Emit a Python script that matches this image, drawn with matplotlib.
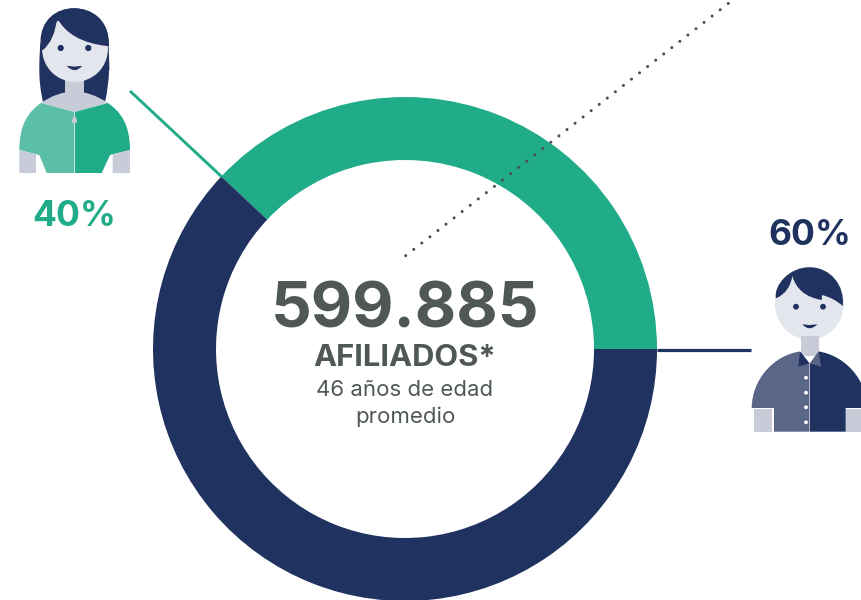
import matplotlib
matplotlib.use("Agg")
import matplotlib.pyplot as plt
from matplotlib.path import Path
from matplotlib.patches import PathPatch, Polygon, Circle, Ellipse

# Data
segment_names = ["Mujeres", "Hombres"]
segment_shares = [38, 62]          # drawn arc proportions as they appear
segment_labels = ["40%", "60%"]
total_value = "599.885"
total_label = "AFILIADOS*"
subtitle_lines = ["46 años de edad", "promedio"]

GREEN = "#20AC88"
NAVY = "#203260"
TEXT = "#4F5857"
GREY = "#C8CCD9"
FACE = "#E3E6EC"
LGREEN = "#5ABFA6"
LNAVY = "#5A6688"
W, H = 862, 600

plt.rcParams["font.family"] = ["Inter", "DejaVu Sans"]
fig = plt.figure(figsize=(W / 100, H / 100), dpi=100, facecolor="white")

# Donut
cx, cy, R = 405, 349, 252
ax_d = fig.add_axes([(cx - R) / W, 1 - (cy + R) / H, 2 * R / W, 2 * R / H])
wedges, _ = ax_d.pie(segment_shares, colors=[GREEN, NAVY], startangle=0, counterclock=True,
                     radius=1, wedgeprops=dict(width=0.25, linewidth=0))
ax_d.set_xlim(-1, 1)
ax_d.set_ylim(-1, 1)
ax_d.axis("off")
for w in wedges:
    w.set_clip_on(False)

# Overlay in pixel coordinates
ax = fig.add_axes([0, 0, 1, 1], facecolor="none")
ax.set_xlim(0, W)
ax.set_ylim(H, 0)
ax.axis("off")

M, L, C, B, Z = Path.MOVETO, Path.LINETO, Path.CURVE3, Path.CURVE4, Path.CLOSEPOLY


def curve(verts, codes, color, z=3):
    ax.add_patch(PathPatch(Path(verts, codes), facecolor=color, edgecolor="none", zorder=z))


def poly(pts, color, z=3):
    ax.add_patch(Polygon(pts, closed=True, facecolor=color, edgecolor="none", zorder=z))


# Connectors
ax.plot([130, 222], [91, 177], color=GREEN, lw=2.1, solid_capstyle="butt", zorder=2)
ax.plot([657, 751], [349.7, 349.7], color=NAVY, lw=2.3, solid_capstyle="butt", zorder=2)
ax.plot([405.7, 729.5], [255.7, 2.5], color="#4A4F52", lw=2.2, linestyle=(0, (0.01, 3.34)),
        dash_capstyle="round", zorder=4)

# Woman
curve([(43, 102), (39, 85), (39.3, 67), (39.5, 50), (40.5, 42),
       (40.5, 20), (56, 8.3), (74, 8.3), (92, 8.3), (108.5, 20), (108.5, 42),
       (109.5, 70), (109, 70), (109, 85), (105, 102), (43, 102)],
      [M, C, C, C, C, B, B, B, B, B, B, L, L, C, C, Z], NAVY)
poly([(65, 70), (84, 70), (84, 95), (65, 95)], GREY, 4)
ax.add_patch(Circle((75, 49), 32.2, color=FACE, zorder=4))
curve([(43, 50), (55, 40), (57, 18), (70, 42), (107, 46), (109, 46),
       (109, 20), (92, 8.3), (74, 8.3), (56, 8.3), (40.5, 20), (40.5, 50), (43, 50)],
      [M, C, C, C, C, L, B, B, B, B, B, B, Z], NAVY, 4.5)
ax.add_patch(Circle((60.7, 48), 2.4, color=NAVY, zorder=5))
ax.add_patch(Circle((88.3, 48), 2.4, color=NAVY, zorder=5))
curve([(66.7, 65.8), (74.5, 66.6), (82.3, 65.8), (74.5, 74.5), (66.7, 65.8), (66.7, 65.8)],
      [M, L, L, C, C, Z], NAVY, 5)
curve([(41, 103), (74, 80), (108, 103), (75, 112), (41, 103)], [M, C, C, L, Z], GREY, 4)
curve([(41, 103), (28, 112), (19.3, 125), (19.3, 150), (39.3, 155), (46.7, 173), (74.3, 173),
       (74.3, 112), (41, 103)], [M, B, B, B, L, L, L, L, Z], LGREEN, 4)
curve([(108, 103), (121, 112), (130, 125), (130, 150), (110, 155), (101.7, 173), (75, 173),
       (75, 112), (108, 103)], [M, B, B, B, L, L, L, L, Z], GREEN, 4)
poly([(19.3, 150), (36, 154.2), (36, 173), (19.3, 173)], GREY, 4)
poly([(112.7, 154.2), (130, 150), (130, 173), (112.7, 173)], GREY, 4)
curve([(74.5, 115), (71.5, 119), (72, 122.5), (74.5, 123.5), (77, 122.5), (77.5, 119),
       (74.5, 115), (74.5, 115)], [M, C, C, C, C, C, C, Z], GREY, 5)

# Man
ax.add_patch(Ellipse((809.5, 303.2), 67.6, 71.6, color=FACE, zorder=3))
curve([(776.7, 298), (790, 292), (792.3, 276), (798, 296), (821.7, 300), (822, 295),
       (834, 298), (842.7, 306), (845, 285), (830, 267.3), (809.5, 267.3),
       (789, 267.3), (774, 285), (775.8, 298), (776.7, 298)],
      [M, C, C, C, C, L, C, C, B, B, B, B, B, B, Z], NAVY, 4)
ax.add_patch(Circle((796, 306.7), 2.2, color=NAVY, zorder=5))
ax.add_patch(Circle((823, 306.7), 2.2, color=NAVY, zorder=5))
curve([(802.3, 324.3), (809.5, 325), (817.3, 324.3), (809.5, 332.5), (802.3, 324.3), (802.3, 324.3)],
      [M, L, L, C, C, Z], NAVY, 5)
poly([(800.7, 336), (818.7, 336), (818.7, 356), (800.7, 356)], GREY, 3)
curve([(800, 351.5), (775, 355), (752, 378), (751.7, 408), (774, 408), (774, 431.7), (809.5, 431.7),
       (809.5, 363.5), (800, 351.5)],
      [M, B, B, B, L, L, L, L, Z], LNAVY, 4)
curve([(818.7, 351.5), (843, 355), (867, 378), (867, 408), (845.7, 408), (845.7, 431.7), (810, 431.7),
       (810, 363.5), (818.7, 351.5)],
      [M, B, B, B, L, L, L, L, Z], NAVY, 4)
poly([(754, 409), (772.5, 409), (772.5, 431.7), (754, 431.7)], GREY, 4)
poly([(846.5, 409), (862, 409), (862, 431.7), (846.5, 431.7)], GREY, 4)
poly([(800, 351.5), (809.5, 363.3), (798.3, 366.7)], NAVY, 5)
poly([(818.7, 351.5), (821, 366.7), (810, 363.3)], LNAVY, 5)
for by in (377.7, 392.7, 407.3, 422.3):
    ax.add_patch(Circle((806, by), 1.2, color="white", zorder=6))

# Text
ax.text(405, 328, total_value, ha="center", va="baseline", color=TEXT, fontsize=46, fontweight="bold")
ax.text(405, 366.5, total_label, ha="center", va="baseline", color=TEXT, fontsize=22.3, fontweight="bold")
ax.text(405, 396.5, subtitle_lines[0], ha="center", va="baseline", color=TEXT, fontsize=16)
ax.text(405, 423, subtitle_lines[1], ha="center", va="baseline", color=TEXT, fontsize=16)
ax.text(74, 226, segment_labels[0], ha="center", va="baseline", color=GREEN, fontsize=25.5, fontweight="bold")
ax.text(809.5, 245, segment_labels[1], ha="center", va="baseline", color=NAVY, fontsize=25.5, fontweight="bold")

fig.savefig("out.png", dpi=100, facecolor="white")
